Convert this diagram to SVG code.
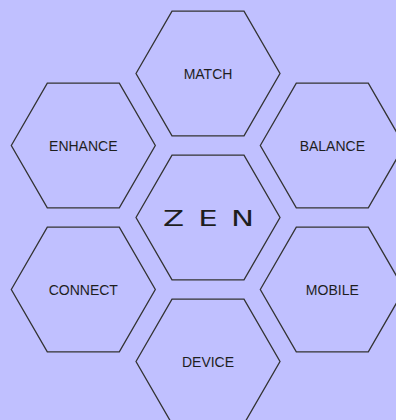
<svg xmlns="http://www.w3.org/2000/svg" xmlns:xlink="http://www.w3.org/1999/xlink" width="396" height="420" viewBox="0 0 396 420">
  <style>
    .hex { fill: none; stroke: #333333; stroke-width: 1.3; stroke-linejoin: miter; }
    .lbl { font-family: "Liberation Sans", Arial, sans-serif; font-size: 14px; fill: #1e1e1e; text-anchor: middle; }
    .zen { font-family: "DejaVu Sans", sans-serif; font-size: 22px; fill: #1e1e1e; text-anchor: middle; }
  </style>
  <defs>
    <polygon id="hexshape" points="-72,0 -36,-62.35 36,-62.35 72,0 36,62.35 -36,62.35"/>
  </defs>
  <rect x="0" y="0" width="396" height="420" fill="#c0c0ff"/>
  <g id="connectors"/>
  <g id="match" transform="translate(208,73.5)">
    <use xlink:href="#hexshape" class="hex"/>
    <text class="lbl" x="0" y="5.2">MATCH</text>
  </g>
  <g id="enhance" transform="translate(83.3,145.5)">
    <use xlink:href="#hexshape" class="hex"/>
    <text class="lbl" x="0" y="5.2">ENHANCE</text>
  </g>
  <g id="balance" transform="translate(332.3,145.5)">
    <use xlink:href="#hexshape" class="hex"/>
    <text class="lbl" x="0" y="5.2">BALANCE</text>
  </g>
  <g id="zen" transform="translate(208,217.5)">
    <use xlink:href="#hexshape" class="hex"/>
    <text class="zen" transform="translate(0,8.5) scale(1.4,1)" x="-24.6 0 24.6" y="0">ZEN</text>
  </g>
  <g id="connect" transform="translate(83.3,289.5)">
    <use xlink:href="#hexshape" class="hex"/>
    <text class="lbl" x="0" y="5.2">CONNECT</text>
  </g>
  <g id="mobile" transform="translate(332.3,289.5)">
    <use xlink:href="#hexshape" class="hex"/>
    <text class="lbl" x="0" y="5.2">MOBILE</text>
  </g>
  <g id="device" transform="translate(208,361.5)">
    <use xlink:href="#hexshape" class="hex"/>
    <text class="lbl" x="0" y="5.2">DEVICE</text>
  </g>
</svg>
